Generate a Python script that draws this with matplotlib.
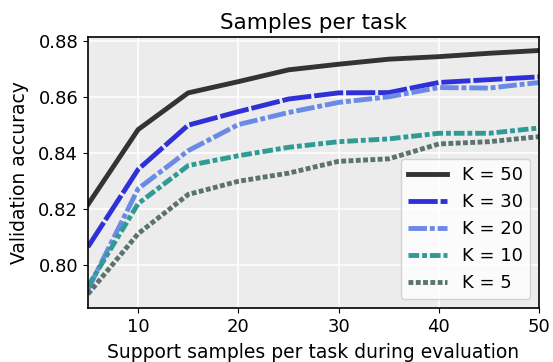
import numpy as np
import matplotlib.pyplot as plt

plt.rcParams['font.family'] = 'DejaVu Sans'
plt.rcParams['font.size'] = 13

samples = [5, 10, 15, 20, 25, 30, 35, 40, 45, 50]
k50 = [0.8217, 0.8484, 0.8615, 0.8655, 0.8697, 0.8717, 0.8735, 0.8744, 0.8756, 0.8766]
k30 = [0.8066, 0.8342, 0.8500, 0.8548, 0.8593, 0.8615, 0.8616, 0.8652, 0.8662, 0.8672]
k20 = [0.7914, 0.8273, 0.8409, 0.8502, 0.8545, 0.8581, 0.8601, 0.8634, 0.8632, 0.8652]
k10 = [0.7925, 0.8220, 0.8356, 0.8391, 0.8421, 0.8441, 0.8451, 0.8471, 0.8471, 0.8490]
k5 = [0.7898, 0.8113, 0.8253, 0.8300, 0.8329, 0.8371, 0.8380, 0.8433, 0.8441, 0.8459]

fig = plt.figure(figsize=(5.53, 3.62), dpi=100)
ax = fig.add_axes([0.159, 0.148, 0.816, 0.749])
ax.set_facecolor('#ececec')

lw = 3.5
ax.plot(samples, k50, color='#333333', lw=lw, ls='-', label='K = 50')
ax.plot(samples, k30, color='#3030d8', lw=lw, ls=(0, (6, 0.6)), label='K = 30')
ax.plot(samples, k20, color='#6a8ae6', lw=lw, ls=(0, (3.8, 0.6, 1, 0.6)), label='K = 20')
ax.plot(samples, k10, color='#2f9b94', lw=lw, ls=(0, (2.2, 0.6, 1, 0.6)), label='K = 10')
ax.plot(samples, k5, color='#5c7270', lw=lw, ls=(0, (1, 0.5)), label='K = 5')

ax.set_xlim(5, 50)
ax.set_ylim(0.7847, 0.8813)
ax.set_xticks([10, 20, 30, 40, 50])
ax.set_yticks([0.80, 0.82, 0.84, 0.86, 0.88])
ax.grid(True, color='white', lw=1.2)
ax.set_axisbelow(True)
for s in ax.spines.values():
    s.set_color('black')
    s.set_linewidth(1.2)

ax.set_title('Samples per task', fontsize=15.5)
ax.set_xlabel('Support samples per task during evaluation', fontsize=13.5, labelpad=5)
ax.set_ylabel('Validation accuracy', fontsize=13.5, labelpad=7)
ax.legend(loc='lower right', fontsize=13, handlelength=2.2, framealpha=0.8)

plt.savefig('out.png')
